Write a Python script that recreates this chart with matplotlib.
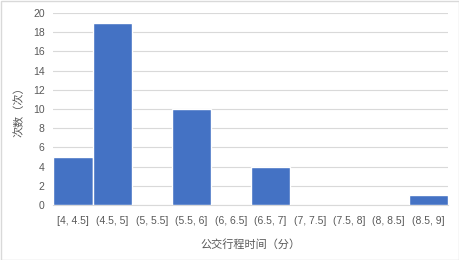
import matplotlib
matplotlib.use("Agg")
import matplotlib.pyplot as plt
from matplotlib.patches import Rectangle

plt.rcParams['font.family'] = ['Liberation Sans', 'Noto Sans CJK SC', 'DejaVu Sans']

categories = ["[4, 4.5]", "(4.5, 5]", "(5, 5.5]", "(5.5, 6]", "(6, 6.5]",
              "(6.5, 7]", "(7, 7.5]", "(7.5, 8]", "(8, 8.5]", "(8.5, 9]"]
counts = [5, 19, 0, 10, 0, 4, 0, 0, 0, 1]
y_ticks = list(range(0, 21, 2))
x_label = "公交行程时间（分）"
y_label = "次数（次）"

fig = plt.figure(figsize=(4.59, 2.6), dpi=100)
ax = fig.add_axes([53/459, 1-205/260, (448-53)/459, (205-13)/260])
fig.patches.append(Rectangle((0.5/459, 0.5/260), 1-1/459, 1-1/260, transform=fig.transFigure,
                             fill=False, edgecolor='#D9D9D9', linewidth=1))

x = list(range(len(categories)))
ax.bar(x, counts, width=1.0, color='#4472C4', edgecolor='white', linewidth=1, zorder=3)
ax.set_xlim(-0.5, len(categories)-0.5)
ax.set_ylim(0, 20)
ax.set_yticks(y_ticks)
ax.set_xticks(x)
ax.set_xticklabels(categories)
ax.grid(axis='y', color='#D9D9D9', linewidth=0.8, zorder=0)
for s in ['top', 'right', 'left']:
    ax.spines[s].set_visible(False)
ax.spines['bottom'].set_color('#D9D9D9')
ax.tick_params(axis='both', length=0, colors='#595959', labelsize=7.5)
ax.tick_params(axis='x', pad=8)
ax.tick_params(axis='y', pad=6)
ax.set_xlabel(x_label, color='#595959', fontsize=8, labelpad=9)
ax.set_ylabel(y_label, color='#595959', fontsize=8, labelpad=6)

fig.savefig("out.png", dpi=100)
